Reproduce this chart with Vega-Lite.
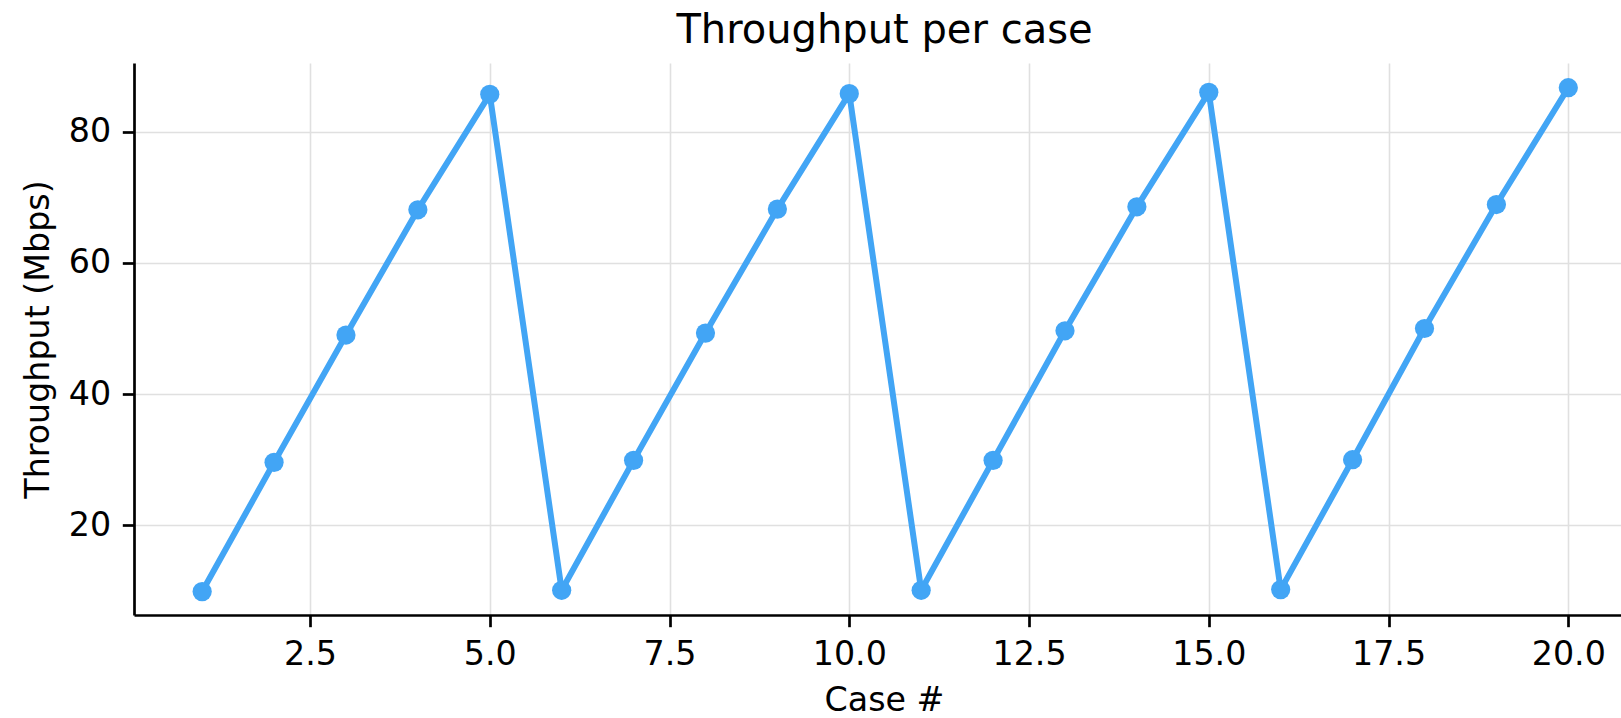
{
  "$schema": "https://vega.github.io/schema/vega-lite/v6.json",
  "width": 1487,
  "height": 552,
  "autosize": {"type": "none"},
  "padding": {"left": 134, "top": 63, "right": 0, "bottom": 103},
  "background": "white",
  "title": {
    "text": "Throughput per case",
    "font": "DejaVu Sans",
    "fontSize": 40,
    "fontWeight": "normal",
    "color": "#000000",
    "anchor": "middle",
    "baseline": "alphabetic",
    "offset": 20,
    "dx": 7,
    "dy": 40
  },
  "config": {
    "view": {"stroke": null},
    "axis": {
      "domainColor": "#000000",
      "domainWidth": 2.7,
      "tickColor": "#000000",
      "tickWidth": 2.7,
      "tickSize": 11.7,
      "labelFont": "DejaVu Sans",
      "labelFontSize": 33.3,
      "labelColor": "#000000",
      "titleFont": "DejaVu Sans",
      "titleFontSize": 33.3,
      "titleFontWeight": "normal",
      "titleColor": "#000000",
      "gridColor": "#e0e0e0",
      "gridWidth": 1.6,
      "labelFlush": false,
      "labelOverlap": false
    }
  },
  "data": {
    "values": [
      {"case": 1, "throughput": 9.9},
      {"case": 2, "throughput": 29.6},
      {"case": 3, "throughput": 49.0},
      {"case": 4, "throughput": 68.1},
      {"case": 5, "throughput": 85.7},
      {"case": 6, "throughput": 10.1},
      {"case": 7, "throughput": 29.9},
      {"case": 8, "throughput": 49.3},
      {"case": 9, "throughput": 68.2},
      {"case": 10, "throughput": 85.8},
      {"case": 11, "throughput": 10.1},
      {"case": 12, "throughput": 29.9},
      {"case": 13, "throughput": 49.65},
      {"case": 14, "throughput": 68.55},
      {"case": 15, "throughput": 86.0},
      {"case": 16, "throughput": 10.2},
      {"case": 17, "throughput": 30.0},
      {"case": 18, "throughput": 50.0},
      {"case": 19, "throughput": 68.9},
      {"case": 20, "throughput": 86.7}
    ]
  },
  "encoding": {
    "x": {
      "field": "case",
      "type": "quantitative",
      "scale": {"domain": [0.052, 20.733], "nice": false, "zero": false},
      "axis": {
        "values": [2.5, 5, 7.5, 10, 12.5, 15, 17.5, 20],
        "format": ".1f",
        "title": "Case #",
        "grid": true,
        "labelBaseline": "alphabetic",
        "labelPadding": 37.3,
        "titleX": 750,
        "titleY": 95,
        "titleBaseline": "alphabetic",
        "titleAlign": "center"
      }
    },
    "y": {
      "field": "throughput",
      "type": "quantitative",
      "scale": {"domain": [6.33, 90.47], "nice": false, "zero": false},
      "axis": {
        "values": [20, 40, 60, 80],
        "title": "Throughput (Mbps)",
        "grid": true,
        "labelPadding": 11.7,
        "labelBaseline": "middle",
        "titleX": -86,
        "titleY": 276,
        "titleBaseline": "alphabetic",
        "titleAlign": "center",
        "titleAngle": 270
      }
    }
  },
  "layer": [
    {
      "mark": {"type": "line", "color": "#42A5F5", "strokeWidth": 6, "clip": true}
    },
    {
      "mark": {"type": "point", "filled": true, "opacity": 1, "color": "#42A5F5", "size": 370, "clip": true}
    }
  ]
}
